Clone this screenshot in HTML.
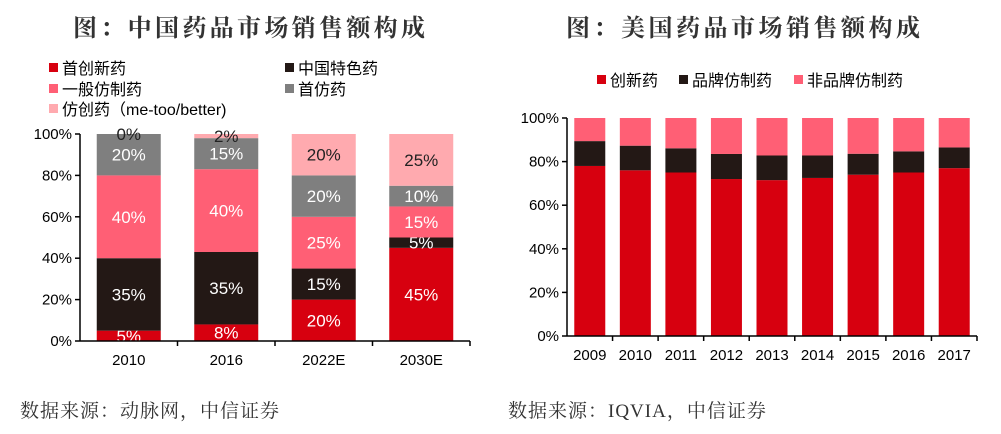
<!DOCTYPE html>
<html><head><meta charset="utf-8"><style>
body{margin:0;background:#fff;width:1001px;height:434px;overflow:hidden}
svg{display:block}
.t{font-family:"Liberation Serif","Noto Serif CJK SC",serif;font-weight:bold;fill:#333;font-size:24px;letter-spacing:5px}
.s{font-family:"Liberation Serif","Noto Serif CJK SC",serif;fill:#333;font-size:19px;letter-spacing:1px}
.l{font-family:"Liberation Sans","Noto Sans CJK SC",sans-serif;font-size:16px;fill:#000}
.a{font-family:"Liberation Sans",sans-serif;font-size:15px;fill:#000}
</style></head><body>
<svg id="svg" width="1001" height="434">
<text class="t" x="73" y="36" textLength="357">图：中国药品市场销售额构成</text>
<text class="t" x="566" y="36" textLength="359">图：美国药品市场销售额构成</text>
<text class="s" x="20" y="417">数据来源：动脉网，中信证券</text>
<text class="s" x="508" y="417">数据来源：IQVIA，中信证券</text>
<g id="L"></g><g id="R"></g>
</svg>
<script>
const leftCats=["2010","2016","2022E","2030E"];
const leftNames=["首创新药","中国特色药","一般仿制药","首仿药","仿创药（me-too/better)"];
const leftS0=[5,8,20,45];
const leftS1=[35,35,15,5];
const leftS2=[40,40,25,15];
const leftS3=[20,15,20,10];
const leftS4=[0,2,20,25];
const rightCats=["2009","2010","2011","2012","2013","2014","2015","2016","2017"];
const rightNames=["创新药","品牌仿制药","非品牌仿制药"];
const rightS0=[78,76,75,72,71.5,72.5,74,75,77];
const rightS1=[11.4,11.3,11.1,11.5,11.3,10.3,9.6,9.7,9.5];
const rightS2=[10.6,12.7,13.9,16.5,17.2,17.2,16.4,15.3,13.5];
const yTicks=["0%","20%","40%","60%","80%","100%"];
const NS="http://www.w3.org/2000/svg";
function mk(p,t,a){const e=document.createElementNS(NS,t);for(const k in a)e.setAttribute(k,a[k]);p.appendChild(e);return e;}
const leftCols=["#d7000f","#231815","#ff5f75","#7f7f7f","#ffaaaf"];
const leftTxt=["#fff","#fff","#fff","#fff","#222"];
const rightCols=["#d7000f","#231815","#ff5f75"];
function chart(g,cats,series,cols,x0,x1,yTop,yBot,bw,labels,txtCols,prefix){
  const y=v=>yBot-(yBot-yTop)*v/100;
  const cw=(x1-x0)/cats.length;
  const xc=i=>x0+cw*(i+0.5);
  cats.forEach((c,i)=>{
    let acc=0;
    series.forEach((s,k)=>{
      const v=s[i];
      const r=mk(g,"rect",{x:xc(i)-bw/2,y:y(acc+v),width:bw,height:y(acc)-y(acc+v),fill:cols[k]});
      
      
      if(labels){
        const t=mk(g,"text",{x:xc(i),y:y(acc+v/2)+6,"text-anchor":"middle",class:"a"});
        t.style.fontSize="17px";t.style.fill=(v<3||k===4)?"#222":txtCols[k];
        t.textContent=v+"%";
        
        
      }
      acc+=v;
    });
    const tl=mk(g,"text",{x:xc(i),y:yBot+24,"text-anchor":"middle",class:"a"});
    tl.textContent=c;
    
    
    const tk=mk(g,"line",{x1:x0+cw*(i+1),x2:x0+cw*(i+1),y1:yBot,y2:yBot+5,stroke:"#000","stroke-width":1.5});
    
    
  });
  yTicks.forEach((t,j)=>{
    const v=j*20;
    const tx=mk(g,"text",{x:x0-8,y:y(v)+5,"text-anchor":"end",class:"a"});
    tx.textContent=t;
    
    
    const tk=mk(g,"line",{x1:x0-5,x2:x0,y1:y(v),y2:y(v),stroke:"#000","stroke-width":1.5});
    
    
  });
  const ax=mk(g,"line",{x1:x0,x2:x0,y1:yTop,y2:yBot,stroke:"#000","stroke-width":1.5});
  
  
  const bx=mk(g,"line",{x1:x0,x2:x1,y1:yBot,y2:yBot,stroke:"#000","stroke-width":1.5});
  
  
}
const L=document.getElementById("L"),R=document.getElementById("R");
chart(L,leftCats,[leftS0,leftS1,leftS2,leftS3,leftS4],leftCols,80,470,134,341,64,true,leftTxt,"left-");
chart(R,rightCats,[rightS0,rightS1,rightS2],rightCols,567,977,118,336,31,false,null,"right-");
const lpos=[[49,74],[285,74],[49,95],[285,95],[49,115]];
leftNames.forEach((n,k)=>{
  const r=mk(L,"rect",{x:lpos[k][0],y:lpos[k][1]-11,width:9,height:9,fill:leftCols[k]});
  
  
  const t=mk(L,"text",{x:lpos[k][0]+13,y:lpos[k][1],class:"l"});
  t.textContent=n;
  
  
});
const rpos=[597,679,794];
rightNames.forEach((n,k)=>{
  const r=mk(R,"rect",{x:rpos[k],y:75,width:9,height:9,fill:rightCols[k]});
  
  
  const t=mk(R,"text",{x:rpos[k]+13,y:86,class:"l"});
  t.textContent=n;
  
  
});
</script>
</body></html>
